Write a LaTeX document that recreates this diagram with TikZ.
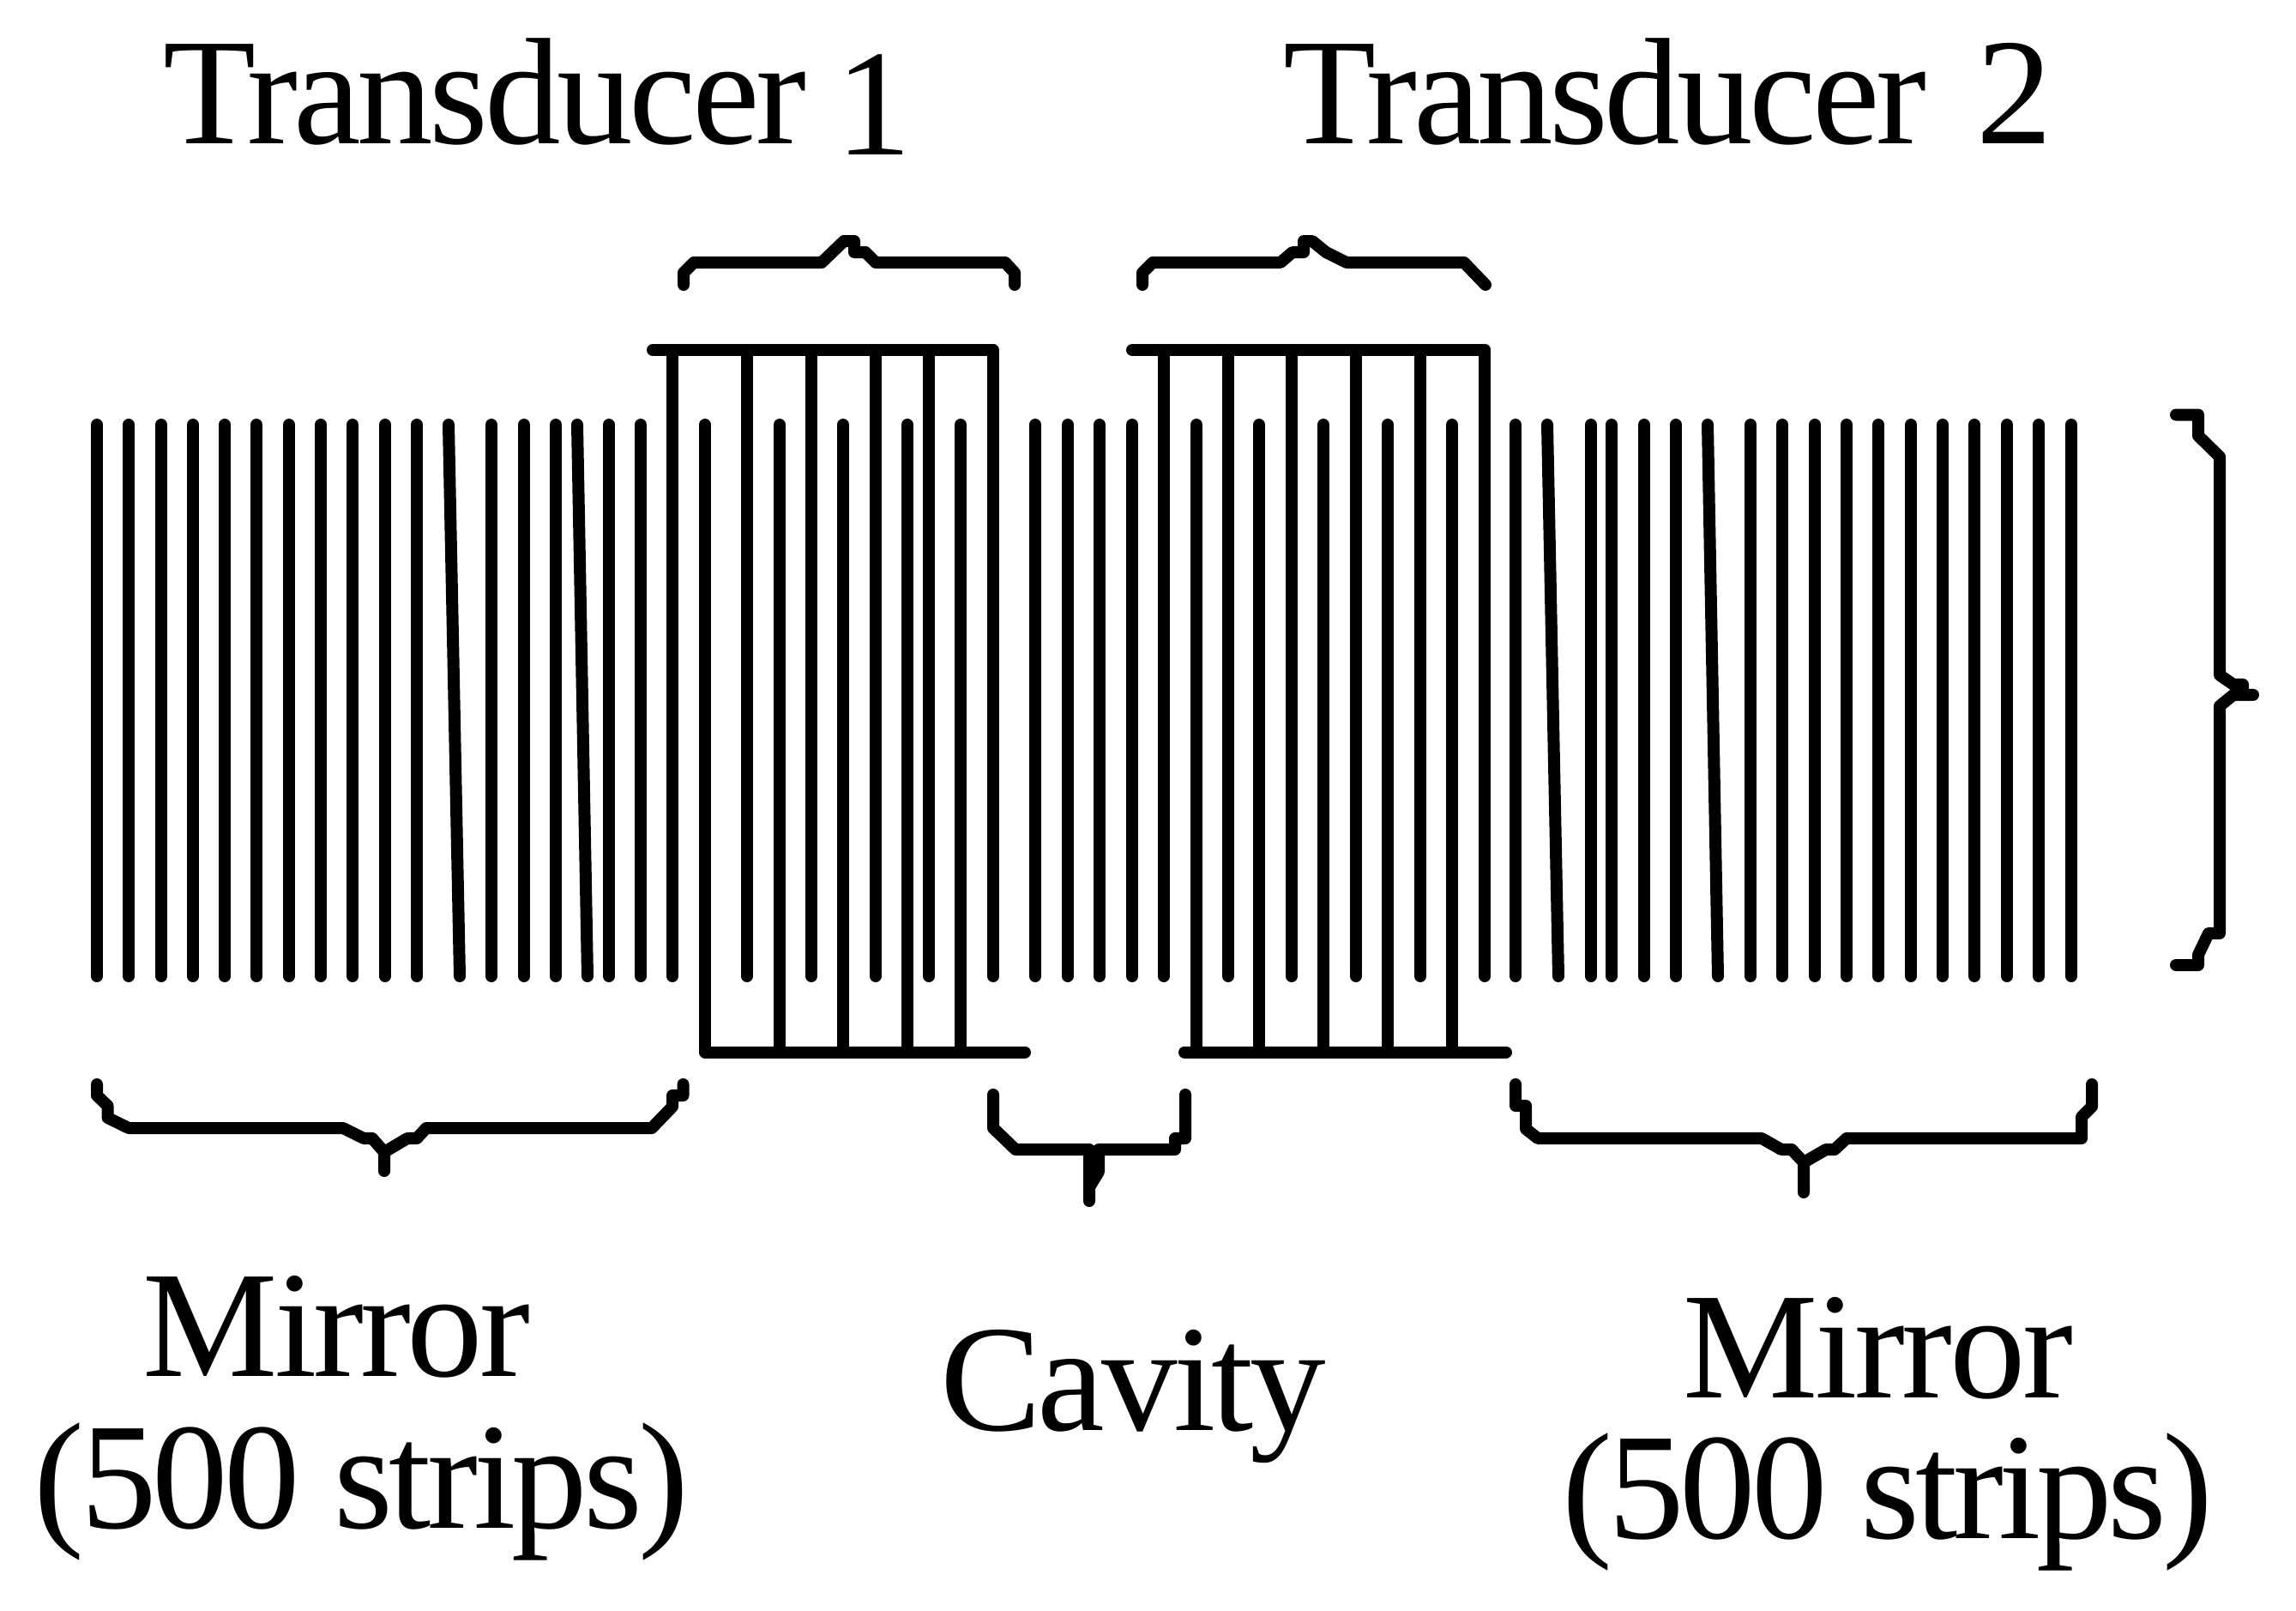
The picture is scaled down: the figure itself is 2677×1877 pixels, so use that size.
\documentclass[tikz,border=0pt]{standalone}
\usepackage{fontspec}
\setmainfont{Liberation Serif}
\newcommand{\trk}[1]{\fontsize{177}{190}\selectfont\addfontfeature{LetterSpace=#1}}
\tikzset{
  ink/.style={line width=14pt,line cap=round,line join=round,black},
  lab/.style={anchor=base,inner sep=0pt,align=center},
}
\begin{document}
\begin{tikzpicture}[x=1pt,y=-1pt]
\useasboundingbox (0,0) rectangle (2677,1877);
% plain strips
\foreach \x in {113,150,188,225,262,299,337,374,411,449,486,573,611,648,710,747,784,
  871,946,1021,1083,1158,1207,1245,1282,1320,1357,1432,1506,1581,1656,1731,1767,
  1855,1879,1917,1954,2041,2078,2116,2153,2190,2228,2265,2302,2340,2377,2415}
  \draw[ink] (\x,495) -- (\x,1138);
% slanted strips
\draw[ink] (523,495) -- (536,1138);
\draw[ink] (673,495) -- (685,1138);
\draw[ink] (1804,495) -- (1817,1138);
\draw[ink] (1991,495) -- (2003,1138);
% fingers from the top bus
\foreach \x in {784,871,946,1021,1083,1158} \draw[ink] (\x,408) -- (\x,1000);
\foreach \x in {1357,1432,1506,1581,1656,1731} \draw[ink] (\x,408) -- (\x,1000);
% fingers to the bottom bus
\foreach \x in {822,909,983,1058,1120} \draw[ink] (\x,495) -- (\x,1226);
\foreach \x in {1395,1468,1543,1618,1693} \draw[ink] (\x,495) -- (\x,1226);
% buses
\draw[ink] (761,408) -- (1157,408);
\draw[ink] (1320,408) -- (1731,408);
\draw[ink] (822,1226.5) -- (1195,1226.5);
\draw[ink] (1381,1226.5) -- (1756,1226.5);
% braces
\draw[ink] (797,332) -- (797,318) -- (809,306) -- (958,306) -- (984,281) -- (996,281) -- (996,294) -- (1009,294) -- (1021,306) -- (1172,306) -- (1183,318) -- (1183,332);
\draw[ink] (1332,332) -- (1332,318) -- (1344,306) -- (1493,306) -- (1507,294) -- (1520,294) -- (1520,281) -- (1530,281) -- (1546,294) -- (1570,306) -- (1707,306) -- (1732,332);
\draw[ink] (113,1264) -- (113,1277) -- (125.5,1289) -- (125.5,1303) -- (150,1315) -- (400,1315) -- (424,1327) -- (434,1327) -- (448,1343) -- (448,1365) -- (448,1343) -- (475,1327) -- (486,1327) -- (497,1315) -- (760,1315) -- (784,1290) -- (784,1277) -- (796.5,1277) -- (796.5,1264);
\draw[ink] (1158,1276) -- (1158,1315) -- (1184,1340) -- (1270,1340) -- (1270,1400) -- (1270,1384) -- (1281,1366) -- (1281,1340) -- (1370,1340) -- (1370,1327) -- (1382,1327) -- (1382,1276);
\draw[ink] (1767,1264) -- (1767,1289) -- (1779,1289) -- (1779,1316) -- (1793,1327) -- (2054,1327) -- (2077,1340) -- (2089,1340) -- (2103,1355) -- (2103,1390) -- (2103,1355) -- (2129,1340) -- (2139,1340) -- (2153,1327) -- (2427,1327) -- (2427,1302) -- (2439,1290) -- (2439,1264);
\draw[ink] (2537,483.5) -- (2563,483.5) -- (2563,508) -- (2588,532.5) -- (2588,787) -- (2604,798) -- (2615,798) -- (2615,810) -- (2627,810) -- (2604,810) -- (2588,823) -- (2588,1088) -- (2575,1088) -- (2563,1113) -- (2563,1125) -- (2537,1125);
% labels
\node[lab,anchor=base west,font={\trk{-2.5}}] (t1) at (190.5,167) {Transducer\hspace*{34pt}\raisebox{-13pt}{1}};
\node[lab,anchor=base west,font={\trk{-2.5}}] (t2) at (1496,167) {Transducer\hspace*{58pt}2};
\node[lab,font={\trk{-2.3}}] (m1a) at (392.5,1604) {Mirror};
\node[lab,font={\trk{-2.7}}] (m1b) at (421.5,1781) {(500 strips)};
\node[lab,font={\trk{-2.5}}] (cav) at (1321,1667) {Cavity};
\node[lab,font={\trk{-2}}] (m2a) at (2190,1629) {Mirror};
\node[lab,font={\trk{-3}}] (m2b) at (2201,1793) {(500 strips)};
\end{tikzpicture}
\end{document}
